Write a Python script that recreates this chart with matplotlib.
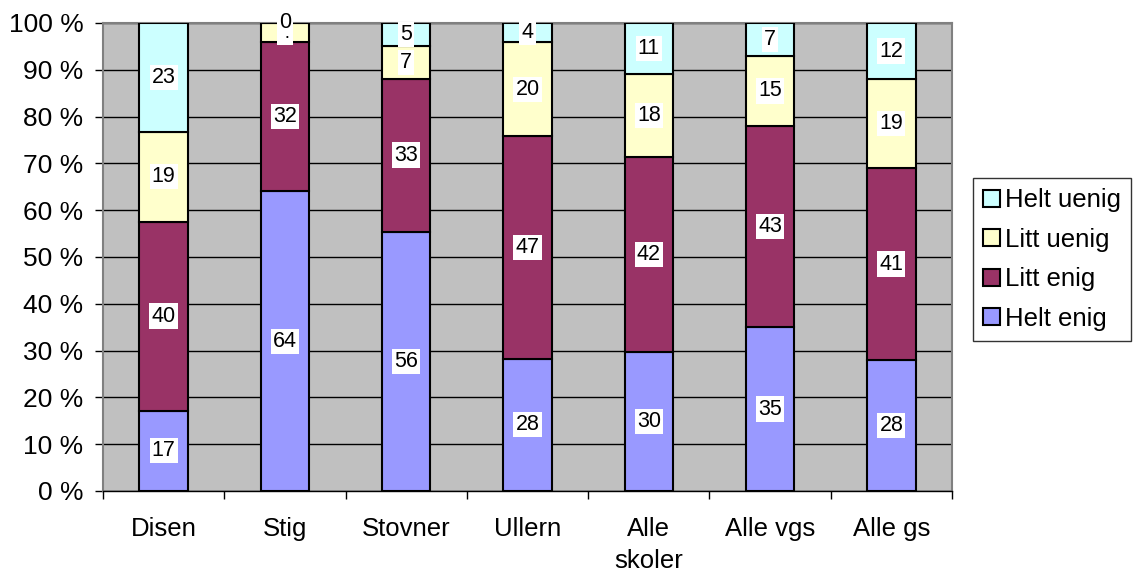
import matplotlib
matplotlib.use("Agg")
import matplotlib.pyplot as plt
import numpy as np

categories = ["Disen", "Stig", "Stovner", "Ullern", "Alle\nskoler", "Alle vgs", "Alle gs"]
series_names = ["Helt enig", "Litt enig", "Litt uenig", "Helt uenig"]
helt_enig = [17, 64, 56, 28, 30, 35, 28]
litt_enig = [40, 32, 33, 47, 42, 43, 41]
litt_uenig = [19, 4, 7, 20, 18, 15, 19]
helt_uenig = [23, 0, 5, 4, 11, 7, 12]
colors = ["#9999FF", "#993366", "#FFFFCC", "#CCFFFF"]
yticks = [0, 10, 20, 30, 40, 50, 60, 70, 80, 90, 100]
ytick_labels = [f"{v} %" for v in yticks]

plt.rcParams['font.family'] = ['Liberation Sans', 'DejaVu Sans']

series = [helt_enig, litt_enig, litt_uenig, helt_uenig]
data = np.array(series, dtype=float)
totals = data.sum(axis=0)
pct = data / totals * 100

fig = plt.figure(figsize=(11.33, 5.72), dpi=100)
ax = fig.add_axes([103/1133, 1-491/572, (952-103)/1133, (491-23)/572])
ax.set_facecolor("#C0C0C0")

x = np.arange(len(categories))
bottom = np.zeros(len(categories))
containers = []
for i, name in enumerate(series_names):
    bc = ax.bar(x, pct[i], 0.4, bottom=bottom, color=colors[i], edgecolor="black",
                linewidth=1.5, label=name, zorder=3)
    containers.append(bc)
    bottom += pct[i]

for i, bc in enumerate(containers):
    ax.bar_label(bc, labels=[str(v) for v in series[i]], label_type="center",
                 fontsize=15.5, zorder=5,
                 bbox=dict(boxstyle="square,pad=0.1", facecolor="white", edgecolor="none"))

ax.set_xlim(-0.5, len(categories) - 0.5)
ax.set_ylim(0, 100)
ax.set_yticks(yticks)
ax.set_yticklabels(ytick_labels, fontsize=19)
ax.yaxis.grid(True, color="black", linewidth=1, zorder=1)
ax.set_axisbelow(True)
ax.tick_params(axis="y", direction="out", length=6, width=1, pad=8)

ax.set_xticks(np.arange(-0.5, len(categories)), minor=False)
ax.set_xticklabels([])
ax.set_xticks(x, minor=True)
ax.set_xticklabels(categories, minor=True, fontsize=18.5, linespacing=1.4)
ax.tick_params(axis="x", which="major", direction="out", length=6, width=1)
ax.tick_params(axis="x", which="minor", length=0, pad=19)

for s in ["top", "right"]:
    ax.spines[s].set_color("#808080")
    ax.spines[s].set_linewidth(1.5)
ax.spines["left"].set_color("#808080")
ax.spines["left"].set_linewidth(1.5)
ax.spines["bottom"].set_color("black")
ax.spines["bottom"].set_linewidth(1)

handles, labels = ax.get_legend_handles_labels()
leg = fig.legend(handles[::-1], labels[::-1], loc="upper left",
                 bbox_to_anchor=(973/1133, 1-178/572), fontsize=18.5,
                 frameon=True, fancybox=False, handlelength=0.65, handleheight=0.65,
                 handletextpad=0.2, borderpad=0.4, labelspacing=0.6,
                 borderaxespad=0)
leg.get_frame().set_edgecolor("black")
leg.get_frame().set_linewidth(1)

fig.savefig("out.png", dpi=100)
